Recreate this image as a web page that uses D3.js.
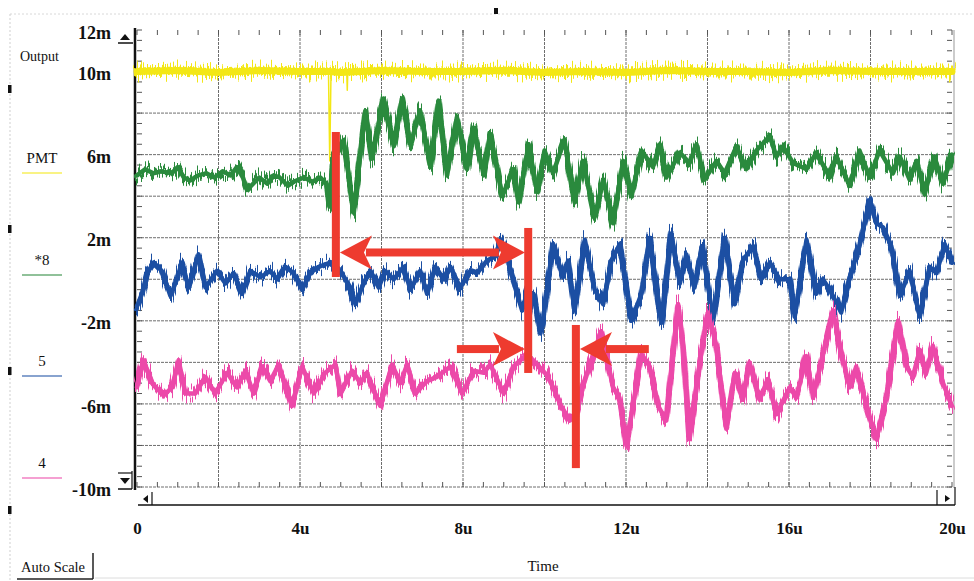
<!DOCTYPE html>
<html><head><meta charset="utf-8">
<script src="https://cdn.jsdelivr.net/npm/d3@7"></script>
<style>
body{margin:0;background:#fff}
svg{display:block}
text{font-family:"Liberation Serif","Times New Roman",serif;fill:#111}
</style>
</head><body>
<svg id="c" width="974" height="581"></svg>
<script>
// ---------- data (time in µs, value in mV) ----------
const timeTicks = [0, 4, 8, 12, 16, 20];
const timeLabels = ["0", "4u", "8u", "12u", "16u", "20u"];
const valueTicks = [12, 10, 6, 2, -2, -6, -10];
const valueLabels = ["12m", "10m", "6m", "2m", "-2m", "-6m", "-10m"];

const legendNames = ["PMT", "*8", "5", "4"];
const seriesColors = ["#f3e716", "#2b8a3e", "#1c4fa3", "#ec4aa9"];

// PMT output (yellow)
const pmt = [[0,10.0],[1,10.05],[2,9.95],[3,10.05],[4,10.0],[4.7,10.0],[5,9.95],[6,10.05],[7,10.0],[8,10.0],[9,10.05],[10,9.95],[11,10.0],[12,9.95],[13,10.05],[14,10.0],[15,10.0],[16,9.95],[17,10.05],[18,10.0],[19,10.0],[20,10.0]];
const pmtGlitch = [[4.70,9.8],[4.73,5.7],[4.76,9.8]];
const pmtDips = [[5.15,9.8],[5.16,9.1],[5.17,9.8]];

// channel *8 (green)
const ch8 = [[0,5.0],[0.2,5.3],[0.4,5.1],[0.6,5.2],[0.85,5.1],[1.0,5.4],[1.15,4.9],[1.3,4.75],[1.5,5.0],[1.7,5.1],[1.9,4.9],[2.1,5.2],[2.3,5.0],[2.45,5.4],[2.6,4.9],[2.7,4.3],[2.85,4.6],[3.0,4.9],[3.2,4.6],[3.35,5.0],[3.5,4.9],[3.7,4.5],[3.85,4.7],[4.1,4.9],[4.3,4.7],[4.5,4.9],[4.65,4.6],[4.72,3.5],[4.8,5.6],[5.07,6.7],[5.32,3.2],[5.6,8.1],[5.77,5.8],[6.05,8.7],[6.3,6.4],[6.5,8.7],[6.71,6.5],[6.95,8.1],[7.2,5.4],[7.4,8.6],[7.61,5.0],[7.85,7.8],[8.1,5.3],[8.26,7.3],[8.51,5.0],[8.67,7.0],[8.96,4.0],[9.24,5.3],[9.37,3.7],[9.61,6.5],[9.82,4.2],[10.0,6.2],[10.21,5.1],[10.49,6.7],[10.74,3.7],[10.94,5.7],[11.23,3.0],[11.44,4.8],[11.68,2.7],[11.93,5.7],[12.13,4.0],[12.38,6.2],[12.66,5.4],[12.83,6.5],[12.99,4.9],[13.32,6.1],[13.56,5.6],[13.73,6.5],[13.93,4.8],[14.22,5.7],[14.42,5.1],[14.71,6.4],[14.95,5.3],[15.2,6.2],[15.53,6.9],[15.69,5.9],[15.85,6.4],[16.1,5.6],[16.43,5.3],[16.67,6.1],[17.0,4.9],[17.16,5.9],[17.49,4.5],[17.73,6.2],[17.98,4.9],[18.22,6.2],[18.55,5.1],[18.72,5.9],[18.96,4.8],[19.13,5.7],[19.33,4.1],[19.57,5.9],[19.78,4.6],[20,6.0]];

// channel 5 (blue)
const ch5 = [[0,-1.3],[0.12,-0.7],[0.25,0.3],[0.41,0.8],[0.61,0.4],[0.82,-0.8],[0.98,0],[1.1,0.8],[1.27,-0.4],[1.51,1.2],[1.68,-0.4],[1.96,0.4],[2.17,-0.2],[2.37,0.3],[2.58,-0.7],[2.78,0.4],[3.03,0.1],[3.27,0.4],[3.44,0],[3.64,0.6],[3.84,0.3],[4.05,-0.5],[4.25,0.3],[4.46,0.6],[4.74,0.8],[4.99,0.4],[5.24,-0.4],[5.36,-1.2],[5.56,-0.2],[5.73,0.4],[5.93,-0.4],[6.09,0.4],[6.3,0],[6.54,0.6],[6.71,-0.5],[6.95,0.4],[7.12,-0.7],[7.32,0.6],[7.53,0],[7.69,0.6],[7.93,-0.4],[8.18,0.4],[8.34,0.3],[8.59,0.9],[8.79,1.1],[8.92,1.9],[9.08,1.1],[9.28,-0.4],[9.45,-1.5],[9.6,-0.6],[9.73,-0.7],[9.9,-2.6],[9.96,-2.0],[10.21,1.7],[10.45,0.1],[10.58,0.9],[10.74,-1.5],[10.99,1.9],[11.23,-0.5],[11.44,-1.2],[11.64,0.9],[11.85,1.7],[12.13,-2.0],[12.38,-0.7],[12.58,2.0],[12.87,-2.1],[13.11,2.2],[13.32,-0.2],[13.48,1.2],[13.68,-0.4],[13.87,1.6],[14.14,-2.0],[14.42,2.0],[14.67,-1.2],[14.87,0.9],[15.12,1.6],[15.32,0],[15.53,0.8],[15.77,0],[16.02,0],[16.14,-1.8],[16.43,1.9],[16.67,-0.7],[16.83,0],[17.0,-0.5],[17.28,-1.6],[17.49,0.1],[17.73,1.6],[17.98,3.8],[18.14,2.7],[18.31,2.5],[18.51,1.6],[18.72,-0.8],[18.96,0.4],[19.21,-1.8],[19.45,0.6],[19.62,0.3],[19.82,1.7],[20,0.8]];

// channel 4 (pink)
const ch4 = [[0,-5.2],[0.16,-3.9],[0.37,-5.0],[0.65,-5.6],[0.86,-5.2],[1.02,-3.9],[1.19,-5.5],[1.43,-5.5],[1.68,-4.7],[1.92,-5.5],[2.21,-4.5],[2.45,-5.2],[2.66,-4.4],[2.86,-5.5],[3.07,-4.2],[3.27,-4.9],[3.48,-4.1],[3.8,-6.1],[4.05,-4.2],[4.34,-5.5],[4.62,-4.5],[4.87,-4.1],[4.99,-5.5],[5.28,-4.4],[5.48,-5.0],[5.64,-4.5],[5.97,-6.1],[6.26,-4.1],[6.46,-5.0],[6.63,-4.1],[6.83,-5.5],[7.12,-4.9],[7.36,-4.7],[7.69,-4.2],[7.98,-5.5],[8.26,-4.4],[8.51,-4.5],[8.67,-4.1],[9.0,-5.5],[9.24,-4.2],[9.57,-3.6],[9.82,-4.1],[10.05,-4.6],[10.21,-5.2],[10.41,-6.1],[10.62,-6.8],[10.78,-6.5],[10.94,-5.2],[11.15,-3.9],[11.39,-2.5],[11.52,-3.7],[11.68,-5.2],[11.84,-5.7],[12.01,-8.0],[12.17,-6.1],[12.38,-3.6],[12.58,-4.2],[12.79,-6.1],[12.99,-6.8],[13.19,-2.9],[13.28,-1.2],[13.4,-3.2],[13.56,-7.7],[13.81,-4.0],[14.01,-1.6],[14.22,-3.2],[14.46,-7.2],[14.67,-4.5],[14.87,-5.8],[15.03,-4.0],[15.28,-5.8],[15.48,-4.8],[15.69,-6.5],[16.02,-5.2],[16.18,-5.7],[16.43,-3.7],[16.59,-5.7],[16.83,-3.6],[17.08,-1.5],[17.24,-3.2],[17.49,-5.2],[17.65,-4.2],[17.82,-5.5],[18.14,-7.7],[18.39,-5.7],[18.68,-2.0],[18.88,-4.2],[19.04,-4.7],[19.21,-3.4],[19.37,-4.5],[19.53,-3.2],[19.78,-5.0],[20,-6.1]];

// red annotations (data units)
const markerBars = [[4.88, 7.09, 0.11], [9.6, 2.47, -4.51], [10.77, -2.2, -9.09]]; // [t, vTop, vBottom]
const markerArrows = [[4.98, 9.52, 1.29, 1], [7.85, 9.52, -3.36, 0], [12.56, 10.87, -3.36, 0]]; // [tFrom, tTo(tip), v, doubleHeaded]

// ---------- drawing ----------
const svg = d3.select("#c");
const x = d3.scaleLinear().domain([0, 20]).range([137, 952]);
const y = d3.scaleLinear().domain([-10, 12]).range([487, 30]);

// scope-style trace texture (rendering effect only)
const defs = svg.append("defs");
const f = defs.append("filter").attr("id", "scope").attr("filterUnits", "userSpaceOnUse")
  .attr("x", 120).attr("y", 10).attr("width", 850).attr("height", 500);
f.append("feTurbulence").attr("type", "fractalNoise").attr("baseFrequency", "0.8 0.015")
  .attr("numOctaves", 2).attr("seed", 7).attr("result", "n");
f.append("feColorMatrix").attr("in", "n").attr("type", "matrix")
  .attr("values", "0 0 0 0 0.5  0 2.2 0 0 -0.6  0 0 0 0 0  0 0 0 0 1").attr("result", "m");
f.append("feDisplacementMap").attr("in", "SourceGraphic").attr("in2", "m").attr("scale", 14)
  .attr("xChannelSelector", "R").attr("yChannelSelector", "G");

// page frame
svg.append("line").attr("x1",10).attr("x2",10).attr("y1",14).attr("y2",581).attr("stroke","#cfcfcf").attr("stroke-dasharray","2,2");
svg.append("line").attr("x1",10).attr("x2",974).attr("y1",14).attr("y2",14).attr("stroke","#d8d8d8").attr("stroke-dasharray","2,2");
svg.append("line").attr("x1",95).attr("x2",974).attr("y1",578).attr("y2",578).attr("stroke","#dcdcdc");
[85, 225, 367, 506].forEach(v => svg.append("rect").attr("x",8).attr("y",v).attr("width",3.5).attr("height",8).attr("fill","#111"));
svg.append("rect").attr("x",494).attr("y",8).attr("width",4).attr("height",6).attr("fill","#111");

// grid
const g = svg.append("g");
g.selectAll(".hg").data(d3.range(-10, 11, 2)).join("line")
  .attr("x1", x(0)).attr("x2", x(20)).attr("y1", d => y(d)).attr("y2", d => y(d))
  .attr("stroke", "#6e6e6e").attr("stroke-width", 1).attr("stroke-dasharray", "3,1");
g.selectAll(".vg").data(d3.range(2, 20, 2)).join("line")
  .attr("x1", d => x(d)).attr("x2", d => x(d)).attr("y1", y(12)).attr("y2", y(-10))
  .attr("stroke", "#6e6e6e").attr("stroke-width", 1).attr("stroke-dasharray", "3,1");

// minor ticks
const vMinor = d3.range(-10, 12.01, 0.5), tMinor = d3.range(0, 20.01, 0.5);
g.selectAll(".lt").data(vMinor).join("line").attr("x1", x(0)).attr("x2", x(0)+5).attr("y1", d=>y(d)).attr("y2", d=>y(d)).attr("stroke","#555");
g.selectAll(".rt").data(vMinor).join("line").attr("x1", x(20)-5).attr("x2", x(20)).attr("y1", d=>y(d)).attr("y2", d=>y(d)).attr("stroke","#555");
g.selectAll(".tt").data(tMinor).join("line").attr("x1", d=>x(d)).attr("x2", d=>x(d)).attr("y1", y(12)).attr("y2", y(12)+5).attr("stroke","#555");
g.selectAll(".bt").data(tMinor).join("line").attr("x1", d=>x(d)).attr("x2", d=>x(d)).attr("y1", y(-10)-5).attr("y2", y(-10)).attr("stroke","#555");

// frame
svg.append("line").attr("x1", 135).attr("x2", 135).attr("y1", 28).attr("y2", 490).attr("stroke", "#111").attr("stroke-width", 2.5);
svg.append("line").attr("x1", 954).attr("x2", 954).attr("y1", 30).attr("y2", 488).attr("stroke", "#999").attr("stroke-width", 1);

// scroll widgets
const blk = "#111";
svg.append("path").attr("d","M120,40 L125,34 L130,40 Z").attr("fill",blk);
svg.append("line").attr("x1",118).attr("x2",133).attr("y1",43).attr("y2",43).attr("stroke",blk).attr("stroke-width",1.5);
svg.append("path").attr("d","M120,478 L125,484 L130,478 Z").attr("fill",blk);
svg.append("line").attr("x1",118).attr("x2",132).attr("y1",473).attr("y2",473).attr("stroke",blk).attr("stroke-width",1.2);
svg.append("line").attr("x1",118).attr("x2",132).attr("y1",489).attr("y2",489).attr("stroke",blk).attr("stroke-width",1.5);
svg.append("line").attr("x1",132).attr("x2",132).attr("y1",471).attr("y2",489).attr("stroke",blk).attr("stroke-width",1.2);
svg.append("line").attr("x1",138).attr("x2",955).attr("y1",505).attr("y2",505).attr("stroke",blk).attr("stroke-width",1.5);
svg.append("path").attr("d","M143,499 L148,495 L148,503 Z").attr("fill",blk);
svg.append("line").attr("x1",152).attr("x2",152).attr("y1",492).attr("y2",505).attr("stroke",blk).attr("stroke-width",1.2);
svg.append("line").attr("x1",937).attr("x2",937).attr("y1",490).attr("y2",505).attr("stroke",blk).attr("stroke-width",1.2);
svg.append("line").attr("x1",955).attr("x2",955).attr("y1",487).attr("y2",505).attr("stroke",blk).attr("stroke-width",1.2);
svg.append("path").attr("d","M945,495 L950,498.5 L945,502 Z").attr("fill",blk);

// traces: solid core + noisy fringe
const line = d3.line().x(d => x(d[0])).y(d => y(d[1]));
const traces = svg.append("g").attr("fill", "none").attr("stroke-linejoin", "round").attr("stroke-linecap", "round");
traces.append("path").attr("d", line(pmtGlitch)).attr("stroke", seriesColors[0]).attr("stroke-width", 1.5);
traces.append("path").attr("d", line(pmtDips)).attr("stroke", seriesColors[0]).attr("stroke-width", 1.5);
const allSeries = [pmt, ch8, ch5, ch4];
const coreW = [7, 4.5, 4.5, 4.5], fringeW = [8, 6, 6, 6];
allSeries.forEach((s, i) => {
  traces.append("path").attr("d", line(s)).attr("stroke", seriesColors[i]).attr("stroke-width", coreW[i]);
  traces.append("path").attr("d", line(s)).attr("stroke", seriesColors[i]).attr("stroke-width", fringeW[i])
    .attr("filter", "url(#scope)");
});

// annotations
const red = "#ee3b2f";
const ann = svg.append("g").attr("fill", red);
ann.selectAll(".bar").data(markerBars).join("rect")
  .attr("x", d => x(d[0]) - 4).attr("width", 8)
  .attr("y", d => y(d[1])).attr("height", d => y(d[2]) - y(d[1]));
function head(tip, yy, dir){ // dir +1 points right, -1 left
  const L = 32, W = 17, N = 24;
  return `M${tip},${yy} L${tip - dir*L},${yy - W} L${tip - dir*N},${yy} L${tip - dir*L},${yy + W} Z`;
}
markerArrows.forEach(a => {
  const x0 = x(a[0]), x1 = x(a[1]), yy = y(a[2]);
  const dir = x1 > x0 ? 1 : -1;
  const s0 = a[3] ? x0 + dir*26 : x0, s1 = x1 - dir*26;
  ann.append("rect").attr("x", Math.min(s0, s1)).attr("width", Math.abs(s1 - s0)).attr("y", yy - 4).attr("height", 8);
  ann.append("path").attr("d", head(x1, yy, dir));
  if (a[3]) ann.append("path").attr("d", head(x0, yy, -dir));
});

// y labels
const yAxis = d3.axisLeft(y).tickValues(valueTicks).tickSize(0).tickPadding(26)
  .tickFormat((d, i) => valueLabels[i]);
svg.append("g").attr("transform", `translate(${x(0)},0)`).call(yAxis)
  .call(s => s.select(".domain").remove())
  .selectAll("text").attr("font-family", "Liberation Serif").attr("font-size", 18).attr("font-weight", "bold")
  .attr("fill", "#111").attr("dy", "0.45em");

// x labels
const xAxis = d3.axisBottom(x).tickValues(timeTicks).tickSize(0).tickPadding(0)
  .tickFormat((d, i) => timeLabels[i]);
svg.append("g").attr("transform", `translate(0,522)`).call(xAxis)
  .call(s => s.select(".domain").remove())
  .selectAll("text").attr("font-family", "Liberation Serif").attr("font-size", 17).attr("font-weight", "bold")
  .attr("fill", "#111").attr("dy", "0.71em");

svg.append("text").attr("x", 543).attr("y", 571).attr("text-anchor", "middle").attr("font-size", 15).text("Time");

// legend
svg.append("text").attr("x", 20).attr("y", 61).attr("font-size", 14).text("Output");
const legendY = [163, 265, 366, 468];
legendNames.forEach((n, i) => {
  svg.append("text").attr("x", 42).attr("y", legendY[i]).attr("text-anchor", "middle").attr("font-size", 15).text(n);
  svg.append("line").attr("x1", 22).attr("x2", 62).attr("y1", legendY[i] + 10).attr("y2", legendY[i] + 10)
    .attr("stroke", seriesColors[i]).attr("stroke-width", 1.3).attr("opacity", 0.7);
});

// Auto Scale button
svg.append("text").attr("x", 21).attr("y", 572).attr("font-size", 14.5).text("Auto Scale");
svg.append("line").attr("x1", 93).attr("x2", 93).attr("y1", 553).attr("y2", 579).attr("stroke", "#222").attr("stroke-width", 1.5);
svg.append("line").attr("x1", 17).attr("x2", 93).attr("y1", 579).attr("y2", 579).attr("stroke", "#222").attr("stroke-width", 1.5);
</script>
</body></html>
